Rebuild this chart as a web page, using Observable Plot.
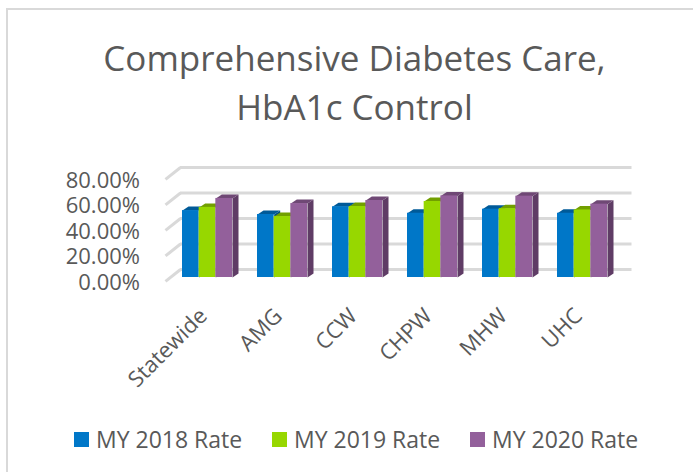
<!DOCTYPE html>
<html>
<head>
<meta charset="utf-8">
<script src="https://cdn.jsdelivr.net/npm/d3@7"></script>
<script src="https://cdn.jsdelivr.net/npm/@observablehq/plot@0.6"></script>
<style>
  html, body { margin: 0; padding: 0; background: #fff; }
  #frame { position: relative; width: 693px; height: 472px; overflow: hidden; font-family: "Open Sans", sans-serif; color: #595959; }
  #frame::before { content: ""; position: absolute; left: 6px; top: 8px; right: 0; bottom: 0; border-left: 2px solid #d9d9d9; border-top: 2px solid #d9d9d9; }
  #title { position: relative; height: 135px; box-sizing: border-box; padding-top: 33px; text-align: center; font-size: 35px; line-height: 49px; margin-left: 16px; }
  #chart { position: relative; height: 280px; }
  #chart svg { display: block; overflow: visible; }
  #legend { position: relative; height: 57px; font-size: 23px; }
  .key { position: absolute; top: 9px; display: flex; align-items: center; line-height: 30px; white-space: nowrap; }
  .swatch { width: 15px; height: 15px; margin-right: 7px; }
</style>
</head>
<body>
<div id="frame">
  <div id="title">Comprehensive Diabetes Care,<br>HbA1c Control</div>
  <div id="chart"></div>
  <div id="legend"></div>
</div>
<script>
const categories = ["Statewide", "AMG", "CCW", "CHPW", "MHW", "UHC"];
const seriesNames = ["MY 2018 Rate", "MY 2019 Rate", "MY 2020 Rate"];
const rate2018 = [52.5, 49.4, 55.5, 50.4, 53.6, 50.4];
const rate2019 = [55.0, 47.8, 55.7, 59.6, 54.0, 53.0];
const rate2020 = [62.0, 58.0, 60.4, 64.0, 63.8, 57.5];
const yTicks = [0, 20, 40, 60, 80];
const frontColors = ["#0077c8", "#97d700", "#93609b"];
const topColors = ["#005a98", "#729f00", "#6f4875"];
const sideColors = ["#004f85", "#648c00", "#5f3c65"];
const legendLefts = [74, 272, 470];

const seriesValues = [rate2018, rate2019, rate2020];
const barW = 2 / 9;         // width of one bar in category units
const groupStart = 1 / 6;   // gap before the first bar of a group
const depthX = 6 / 75;      // bar depth along x
const depthY = 3.1;         // bar depth along y
const floorX0 = -0.06, floorX1 = 0.14, floorY0 = -3.1, floorY1 = 6.3;

function polys(values, s, face) {
  return values.flatMap((v, i) => {
    const x0 = i + groupStart + s * barW, x1 = x0 + barW;
    const pts = face === "top"
      ? [[x0, v], [x1, v], [x1 + depthX, v + depthY], [x0 + depthX, v + depthY]]
      : [[x1, 0], [x1 + depthX, depthY], [x1 + depthX, v + depthY], [x1, v]];
    return pts.map(([x, y]) => ({x, y, id: i}));
  });
}

const barMarks = seriesValues.flatMap((values, s) => [
  Plot.line(polys(values, s, "side"), {x: "x", y: "y", z: "id", fill: sideColors[s], stroke: null, curve: "linear"}),
  Plot.line(polys(values, s, "top"), {x: "x", y: "y", z: "id", fill: topColors[s], stroke: null, curve: "linear"}),
  Plot.rectY(values, {
    x1: (d, i) => i + groupStart + s * barW,
    x2: (d, i) => i + groupStart + (s + 1) * barW,
    y1: 0,
    y2: d => d,
    fill: frontColors[s]
  })
]);

const plot = Plot.plot({
  width: 693,
  height: 280,
  marginTop: 0,
  marginRight: 0,
  marginLeft: 0,
  marginBottom: 138,
  x: {type: "linear", domain: [0, 6], range: [169.5, 619.5]},
  y: {type: "linear", domain: [0, 80], range: [142, 40]},
  style: {background: "transparent", color: "#595959", fontFamily: "'Open Sans', sans-serif"},
  marks: [
    Plot.ruleY(yTicks, {y: d => d + floorY1, x1: floorX1, x2: 6.16, stroke: "#d9d9d9", strokeWidth: 3}),
    Plot.link(yTicks, {x1: floorX0, x2: floorX1, y1: d => d + floorY0, y2: d => d + floorY1, stroke: "#d9d9d9", strokeWidth: 3}),
    ...barMarks,
    Plot.axisY(yTicks, {
      anchor: "left",
      tickSize: 0,
      label: null,
      tickFormat: d => d.toFixed(2) + "%",
      fontSize: 22,
      x: 0,
      dx: -21,
      dy: 5,
      fill: "#595959"
    }),
    Plot.axisX(categories.map((d, i) => i + 0.5), {
      anchor: "bottom",
      tickSize: 0,
      label: null,
      tickFormat: d => categories[d - 0.5],
      tickRotate: -45,
      fontSize: 22,
      dx: -4,
      dy: 23,
      fill: "#595959"
    })
  ]
});
document.getElementById("chart").appendChild(plot);

const legend = d3.select("#legend");
seriesNames.forEach((name, i) => {
  const k = legend.append("div").attr("class", "key").style("left", legendLefts[i] + "px");
  k.append("div").attr("class", "swatch").style("background", frontColors[i]);
  k.append("span").text(name);
});
</script>
</body>
</html>
